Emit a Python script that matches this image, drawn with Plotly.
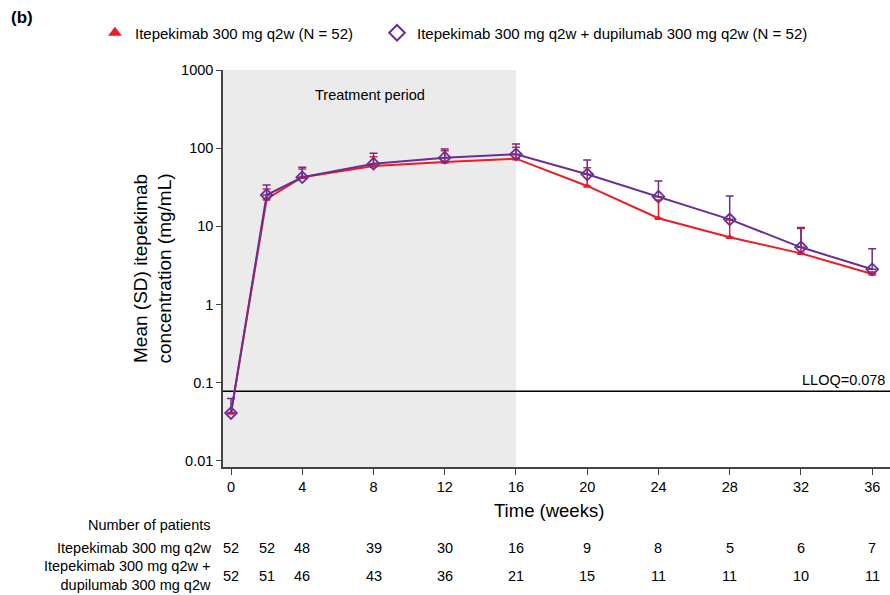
import math
import plotly.graph_objects as go

# ---------------- data ----------------
weeks = [0, 2, 4, 8, 12, 16, 20, 24, 28, 32, 36]
ite_mean = [0.041, 22.4, 42.5, 59.0, 66.6, 73.5, 32.9, 12.7, 7.25, 4.52, 2.46]
ite_sd = [0.0, 7.6, 11.5, 19.0, 26.4, 29.5, 23.5, 9.0, 4.8, 4.9, 0.15]
combo_mean = [0.041, 25.2, 42.5, 63.4, 75.7, 83.5, 46.4, 24.0, 12.3, 5.4, 2.83]
combo_sd = [0.022, 8.6, 14.5, 22.6, 22.0, 29.5, 24.2, 14.0, 12.2, 4.3, 2.36]

lloq = 0.078
xticks = [0, 4, 8, 12, 16, 20, 24, 28, 32, 36]
yticks = [0.01, 0.1, 1, 10, 100, 1000]
ytick_text = ["0.01", "0.1", "1", "10", "100", "1000"]

n_ite = [52, 52, 48, 39, 30, 16, 9, 8, 5, 6, 7]
n_combo = [52, 51, 46, 43, 36, 21, 15, 11, 11, 10, 11]

name_ite = "Itepekimab 300 mg q2w (N = 52)"
name_combo = "Itepekimab 300 mg q2w + dupilumab 300 mg q2w (N = 52)"
row_ite = "Itepekimab 300 mg q2w"
row_combo = "Itepekimab 300 mg q2w +<br>dupilumab 300 mg q2w"
treat_end = 16

# ---------------- style ----------------
RED = "#ED1C24"
PURPLE = "#6B2E92"
FONT = "Liberation Sans, Arial, sans-serif"

W, H = 890, 595
L, R, T, B = 223, 0, 70, 128
x_range = [-0.45, 37.0]
y_range = [-2.077, 3.0]


def py(px):
    return (H - B - px) / (H - B - T)


def pxx(px):
    return (px - L) / (W - L - R)


fig = go.Figure()

# LLOQ reference line
fig.add_trace(go.Scatter(
    x=x_range, y=[lloq, lloq], mode="lines",
    line=dict(color="black", width=1.5), showlegend=False, hoverinfo="skip",
    cliponaxis=False))

fig.add_trace(go.Scatter(
    x=weeks, y=ite_mean, mode="lines+markers", showlegend=False,
    line=dict(color=RED, width=2),
    marker=dict(symbol="triangle-up", size=7, color=RED),
    error_y=dict(type="data", array=ite_sd, arrayminus=[0] * len(ite_sd),
                 symmetric=False, color=RED, thickness=1.5, width=4),
    cliponaxis=False))

fig.add_trace(go.Scatter(
    x=weeks, y=combo_mean, mode="lines+markers", showlegend=False,
    line=dict(color=PURPLE, width=2),
    marker=dict(symbol="diamond-open", size=9, color=PURPLE, line=dict(width=1.8, color=PURPLE)),
    error_y=dict(type="data", array=combo_sd, arrayminus=[0] * len(combo_sd),
                 symmetric=False, color=PURPLE, thickness=1.5, width=4),
    cliponaxis=False))

# legend entries (markers only), one legend each for exact placement
fig.add_trace(go.Scatter(x=[None], y=[None], mode="markers", name=name_ite, legend="legend",
                         marker=dict(symbol="triangle-up", size=11, color=RED)))
fig.add_trace(go.Scatter(x=[None], y=[None], mode="markers", name=name_combo, legend="legend2",
                         marker=dict(symbol="diamond-open", size=11, color=PURPLE,
                                     line=dict(width=2, color=PURPLE))))

# treatment period shading
fig.add_shape(type="rect", xref="x", yref="paper", x0=x_range[0], x1=treat_end,
              y0=0, y1=1, fillcolor="#EBEBEB", line=dict(width=0), layer="below")

TXT = dict(size=14.5, color="black")
ann = []
ann.append(dict(text="Treatment period", xref="paper", yref="paper",
                x=pxx(370), y=py(95), xanchor="center", yanchor="middle",
                showarrow=False, font=TXT))
ann.append(dict(text="LLOQ=0.078", xref="paper", yref="y",
                x=pxx(887), y=math.log10(lloq), xanchor="right", yanchor="bottom",
                showarrow=False, font=TXT, yshift=1))
ann.append(dict(text="<b>(b)</b>", xref="paper", yref="paper", x=pxx(9), y=py(18),
                xanchor="left", yanchor="middle", showarrow=False,
                font=dict(size=17, color="black")))
ann.append(dict(text="Mean (SD) itepekimab<br>concentration (mg/mL)", xref="paper", yref="paper",
                x=pxx(152), y=0.5, xanchor="center", yanchor="middle", textangle=-90,
                showarrow=False, font=dict(size=19, color="black")))
ann.append(dict(text="Time (weeks)", xref="paper", yref="paper",
                x=pxx(549), y=py(511), xanchor="center", yanchor="middle", showarrow=False,
                font=dict(size=18.5, color="black")))
ann.append(dict(text="Number of patients", xref="paper", yref="paper",
                x=pxx(213), y=py(525), xanchor="right", yanchor="middle", showarrow=False,
                font=TXT))
ann.append(dict(text=row_ite, xref="paper", yref="paper",
                x=pxx(213), y=py(548), xanchor="right", yanchor="middle", showarrow=False,
                font=TXT))
ann.append(dict(text=row_combo, xref="paper", yref="paper",
                x=pxx(213), y=py(575), xanchor="right", yanchor="middle", align="right",
                showarrow=False, font=TXT))
for wk, a, c in zip(weeks, n_ite, n_combo):
    ann.append(dict(text=str(a), xref="x", yref="paper", x=wk, y=py(548),
                    xanchor="center", yanchor="middle", showarrow=False, font=TXT))
    ann.append(dict(text=str(c), xref="x", yref="paper", x=wk, y=py(576),
                    xanchor="center", yanchor="middle", showarrow=False, font=TXT))

LEG = dict(orientation="h", yanchor="middle", xanchor="left", y=py(33),
           font=dict(size=15), bgcolor="rgba(0,0,0,0)", itemsizing="constant")

fig.update_layout(
    width=W, height=H,
    margin=dict(l=L, r=R, t=T, b=B, pad=0),
    paper_bgcolor="white", plot_bgcolor="white",
    font=dict(family=FONT, color="black", size=14.5),
    annotations=ann,
    legend=dict(LEG, x=pxx(95)),
    legend2=dict(LEG, x=pxx(377)),
    xaxis=dict(range=x_range, tickmode="array", tickvals=xticks,
               showgrid=False, zeroline=False, showline=True, linecolor="#444",
               linewidth=1.5, ticks="outside", ticklen=6, tickwidth=1.2, tickcolor="#444",
               tickfont=dict(size=14.5)),
    yaxis=dict(type="log", range=y_range, tickmode="array", tickvals=yticks,
               ticktext=ytick_text, showgrid=False, zeroline=False, showline=True,
               linecolor="#444", linewidth=1.5, ticks="outside", ticklen=5, tickwidth=1.2,
               tickcolor="#444", tickfont=dict(size=14.5)),
)

fig.write_html(
    "out.html",
    config={"displayModeBar": False},
    post_script="document.body.style.margin='0';document.body.style.overflow='hidden';",
)
